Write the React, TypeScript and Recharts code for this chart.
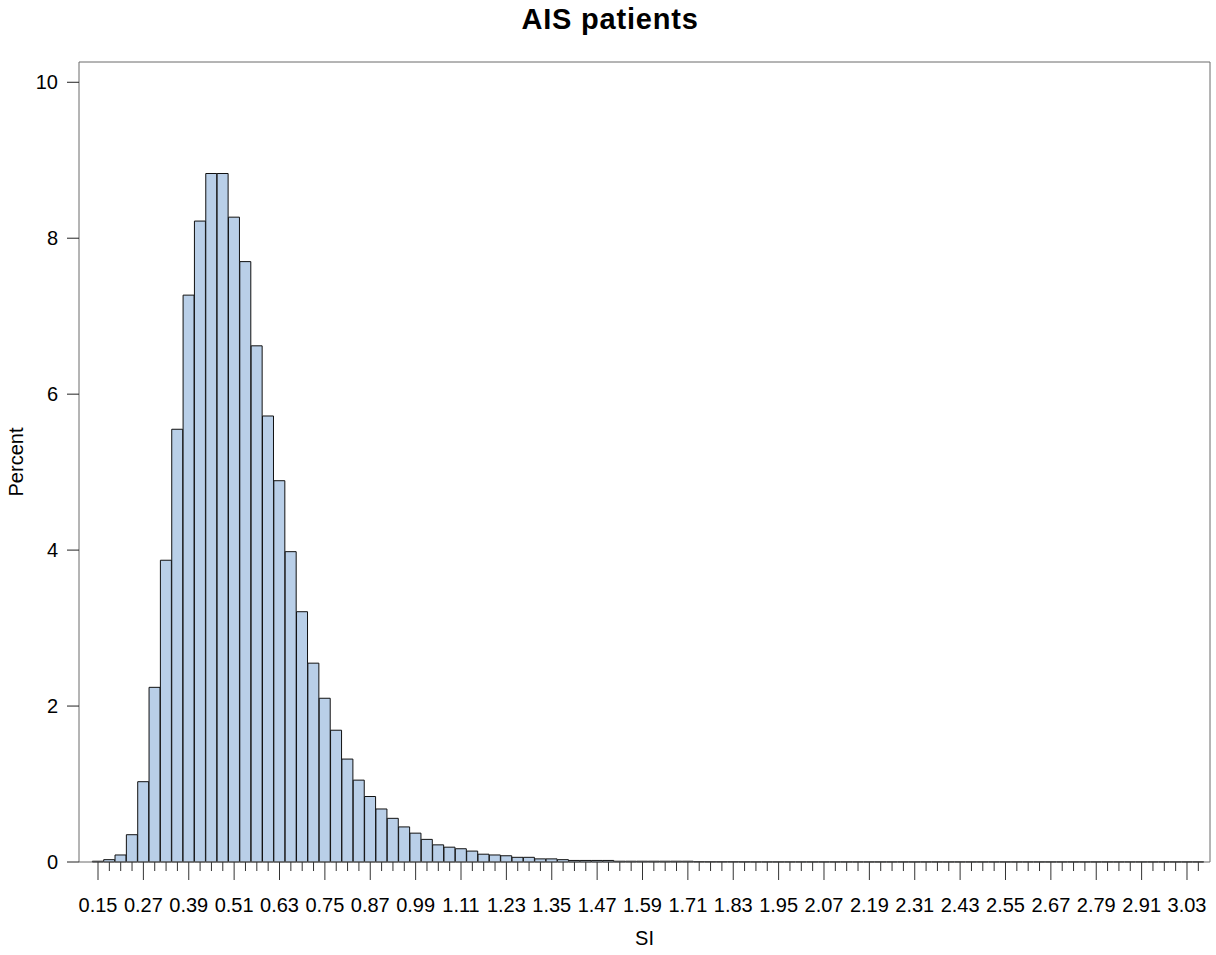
import { Bar, BarChart, CartesianGrid, XAxis, YAxis } from 'recharts';

// Histogram of SI for AIS patients; bins are 0.03 wide, labelled by midpoint.
const bins = [
  '0.12', '0.15', '0.18', '0.21', '0.24', '0.27', '0.30', '0.33', '0.36', '0.39',
  '0.42', '0.45', '0.48', '0.51', '0.54', '0.57', '0.60', '0.63', '0.66', '0.69',
  '0.72', '0.75', '0.78', '0.81', '0.84', '0.87', '0.90', '0.93', '0.96', '0.99',
  '1.02', '1.05', '1.08', '1.11', '1.14', '1.17', '1.20', '1.23', '1.26', '1.29',
  '1.32', '1.35', '1.38', '1.41', '1.44', '1.47', '1.50', '1.53', '1.56', '1.59',
  '1.62', '1.65', '1.68', '1.71', '1.74', '1.77', '1.80', '1.83', '1.86', '1.89',
  '1.92', '1.95', '1.98', '2.01', '2.04', '2.07', '2.10', '2.13', '2.16', '2.19',
  '2.22', '2.25', '2.28', '2.31', '2.34', '2.37', '2.40', '2.43', '2.46', '2.49',
  '2.52', '2.55', '2.58', '2.61', '2.64', '2.67', '2.70', '2.73', '2.76', '2.79',
  '2.82', '2.85', '2.88', '2.91', '2.94', '2.97', '3.00', '3.03', '3.06',
];

const percent = [
  0, 0.01, 0.03, 0.09, 0.35, 1.03, 2.24, 3.87, 5.55, 7.27,
  8.22, 8.83, 8.83, 8.27, 7.7, 6.62, 5.72, 4.89, 3.98, 3.21,
  2.55, 2.1, 1.69, 1.32, 1.05, 0.84, 0.68, 0.56, 0.45, 0.37,
  0.29, 0.22, 0.19, 0.17, 0.14, 0.1, 0.09, 0.08, 0.06, 0.06,
  0.04, 0.04, 0.03, 0.02, 0.02, 0.02, 0.02, 0.01, 0.01, 0.01,
  0.01, 0.01, 0.01, 0.01, 0.005, 0.004, 0.004, 0.004, 0.003, 0.002,
  0.002, 0.002, 0.002, 0.002, 0.002, 0.002, 0.002, 0.002, 0.002, 0.002,
  0.002, 0.002, 0.002, 0.002, 0.002, 0.002, 0.002, 0.002, 0.002, 0.002,
  0.002, 0.002, 0.002, 0.002, 0.002, 0.002, 0.002, 0.002, 0.002, 0.002,
  0.002, 0.002, 0.002, 0.002, 0.002, 0.002, 0.002, 0.002, 0.002,
];

const majorTicks = [
  '0.15', '0.27', '0.39', '0.51', '0.63', '0.75', '0.87', '0.99', '1.11', '1.23',
  '1.35', '1.47', '1.59', '1.71', '1.83', '1.95', '2.07', '2.19', '2.31', '2.43',
  '2.55', '2.67', '2.79', '2.91', '3.03',
];

const yTicks = [0, 2, 4, 6, 8, 10];

const W = 1216;
const H = 955;
const FONT = '"Liberation Sans", Arial, sans-serif';
const FRAME = '#6a6a6a';

const data = bins.map((bin, i) => ({ bin, pct: percent[i] }));

// Minor tick at every bin midpoint, long tick + label every fourth bin.
function XTick(props: any) {
  const { x, y, payload } = props;
  if (payload.value === bins[0]) return null;
  const major = majorTicks.includes(payload.value);
  return (
    <g>
      <line x1={x} x2={x} y1={y} y2={y + (major ? 18 : 9)} stroke="#333" />
      {major && (
        <text x={x} y={y + 50} textAnchor="middle" fontSize={20} fontFamily={FONT} fill="#000">
          {payload.value}
        </text>
      )}
    </g>
  );
}

export default function App() {
  return (
    <div style={{ position: 'absolute', left: 0, top: 0, width: W, height: H, background: '#fff' }}>
      <BarChart
        width={W}
        height={H}
        data={data}
        margin={{ top: 62, right: 6, left: 0, bottom: 0 }}
        barCategoryGap={0}
        barGap={0}
      >
        {/* top and right sides of the frame */}
        <CartesianGrid
          stroke={FRAME}
          horizontalCoordinatesGenerator={({ offset }: any) => [offset.top]}
          verticalCoordinatesGenerator={({ offset }: any) => [offset.left + offset.width]}
        />
        <XAxis
          dataKey="bin"
          height={93}
          interval={0}
          padding={{ left: 2, right: 6 }}
          tickSize={0}
          tickMargin={0}
          tickLine={false}
          axisLine={{ stroke: FRAME }}
          tick={<XTick />}
          label={{
            content: ({ viewBox }: any) => (
              <text
                x={viewBox.x + viewBox.width / 2}
                y={viewBox.y + 83}
                textAnchor="middle"
                fontSize={20}
                fontFamily={FONT}
                fill="#000"
              >
                SI
              </text>
            ),
          }}
        />
        <YAxis
          width={79}
          domain={[0, 10.26]}
          ticks={yTicks}
          tickSize={12}
          tickMargin={9}
          tickLine={{ stroke: '#222' }}
          axisLine={{ stroke: FRAME }}
          tick={{ fill: '#000', fontSize: 20, fontFamily: FONT }}
          label={{
            content: ({ viewBox }: any) => {
              const cx = viewBox.x + 23;
              const cy = viewBox.y + viewBox.height / 2;
              return (
                <g>
                  <text
                    x={cx}
                    y={cy}
                    transform={`rotate(-90 ${cx} ${cy})`}
                    textAnchor="middle"
                    fontSize={20}
                    fontFamily={FONT}
                    fill="#000"
                  >
                    Percent
                  </text>
                  <text
                    x={W / 2 + 2}
                    y={29}
                    textAnchor="middle"
                    fontSize={29}
                    fontWeight="bold"
                    letterSpacing={0.8}
                    fontFamily={FONT}
                    fill="#000"
                  >
                    AIS patients
                  </text>
                </g>
              );
            },
          }}
        />
        <Bar dataKey="pct" fill="#b9cfe8" stroke="#111" strokeWidth={1} isAnimationActive={false} />
      </BarChart>
    </div>
  );
}
